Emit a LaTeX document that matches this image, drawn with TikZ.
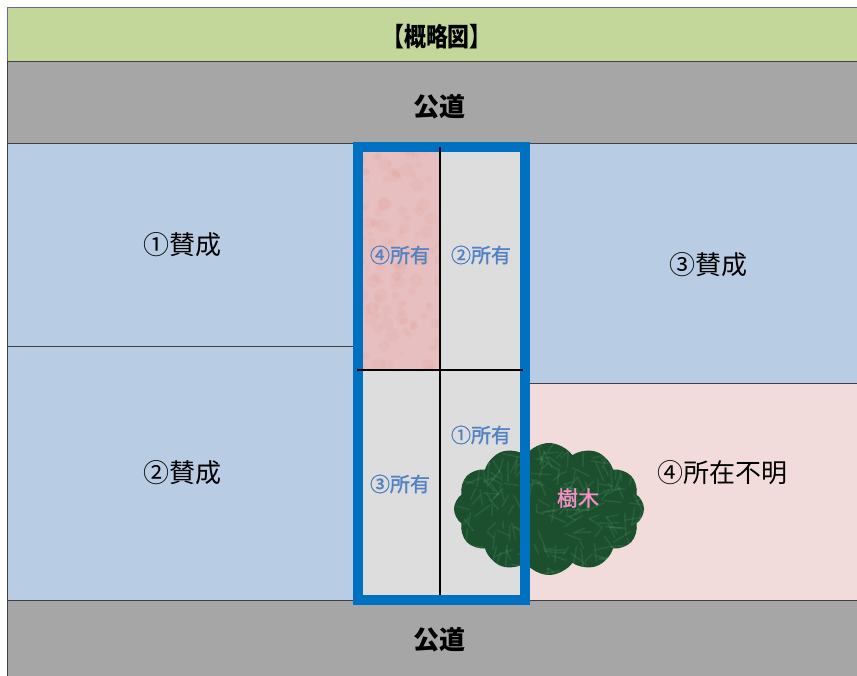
\documentclass[tikz,border=0pt]{standalone}
\usepackage{fontspec}
\setmainfont{Noto Sans CJK JP}
\newfontfamily\midfont{Noto Sans CJK JP}[FakeBold=1.4]
\usetikzlibrary{shapes.symbols,calc}

\definecolor{headgreen}{HTML}{C4D79B}
\definecolor{roadgray}{HTML}{A6A6A6}
\definecolor{lotblue}{HTML}{B8CCE4}
\definecolor{lotpink}{HTML}{F2DCDB}
\definecolor{cellgray}{HTML}{DDDDDD}
\definecolor{cellpink}{HTML}{E7BFC0}
\definecolor{stripblue}{HTML}{0070C0}
\definecolor{ownblue}{HTML}{5082C4}
\definecolor{treegreen}{HTML}{1B4F2E}
\definecolor{treelight}{HTML}{6AB384}
\definecolor{treepink}{HTML}{F590C8}

\begin{document}
\begin{tikzpicture}[x=1pt,y=-1pt]
        \tikzset{area/.style={draw=black!75,line width=0.8pt},
            road/.style={area,fill=roadgray},
            lot/.style={area,fill=lotblue},
            bigtext/.style={font=\fontsize{26}{30}\selectfont},
            roadtext/.style={font=\fontsize{26}{30}\selectfont\bfseries},
            owner/.style={text=ownblue,font=\fontsize{20}{24}\midfont},
            divider/.style={draw=black,line width=2.6pt},
            crown/.style={cloud,cloud puffs=12,cloud puff arc=110,
                cloud ignores aspect,inner sep=0pt,fill=treegreen,
                minimum width=190pt,minimum height=132pt}}
        \useasboundingbox (0,0) rectangle (857,675);

        % header and the two roads
        \draw[area,fill=headgreen,draw=black!60!blue!60] (7,7) rectangle (860,61);
        \draw[road] (7,61) rectangle (860,143);
        \draw[road] (7,600) rectangle (860,680);

        % neighbouring lots
        \draw[lot] (7,143) rectangle (355,346);
        \draw[lot] (7,346) rectangle (355,600);
        \draw[lot] (527,143) rectangle (860,383);
        \draw[area,fill=lotpink] (527,383) rectangle (860,600);

        % the shared strip
        \fill[cellgray] (358,147) rectangle (525,600);
        \fill[cellpink] (358,147) rectangle (440,370);
        \begin{scope}
            \clip (358,147) rectangle (440,370);
            \pgfmathsetseed{31}
            \foreach \i in {1,...,120} {
                \pgfmathsetmacro{\px}{358+82*rnd}
                \pgfmathsetmacro{\py}{147+223*rnd}
                \pgfmathsetmacro{\pr}{2+5*rnd}
                \fill[red!45!brown,opacity=0.04] (\px,\py) circle[radius=\pr pt];
            }
        \end{scope}

        % tree
        \node[crown,path picture={
            \pgfmathsetseed{17}
            \foreach \i in {1,...,240} {
                \pgfmathsetmacro{\px}{190*rnd}
                \pgfmathsetmacro{\py}{132*rnd}
                \pgfmathsetmacro{\pa}{360*rnd}
                \draw[treelight,opacity=0.16,line width=1.6pt,line cap=round]
                    ($(path picture bounding box.north west)+(\px,\py)$)
                    -- ++(\pa:6+16*rnd);
            }}] (crown) at (549,509) {};

        % division lines and strip outline
        \draw[stripblue,line width=9.5pt] (358,147) rectangle (525,600);
        \draw[divider] (440,147) -- (440,595);
        \draw[divider] (357,370) -- (523,370);

        % texts
        \node[font=\fontsize{26}{30}\selectfont\bfseries,xscale=0.84] (title) at (437,37) {【概略図】};
        \node[roadtext] (roadN) at (439,107) {公道};
        \node[roadtext] (roadS) at (439,640) {公道};
        \node[bigtext] (lotA) at (182,245) {①賛成};
        \node[bigtext] (lotB) at (182,473) {②賛成};
        \node[bigtext] (lotC) at (708,265) {③賛成};
        \node[bigtext] (lotD) at (722,473) {④所在不明};
        \node[owner] (ownD) at (400,255) {④所有};
        \node[owner] (ownB) at (481,255) {②所有};
        \node[owner] (ownC) at (400,484) {③所有};
        \node[owner] (ownA) at (481,435) {①所有};
        \node[text=treepink,font=\fontsize{21}{25}\midfont] (tree) at (578,498) {樹木};
    \end{tikzpicture}
\end{document}
